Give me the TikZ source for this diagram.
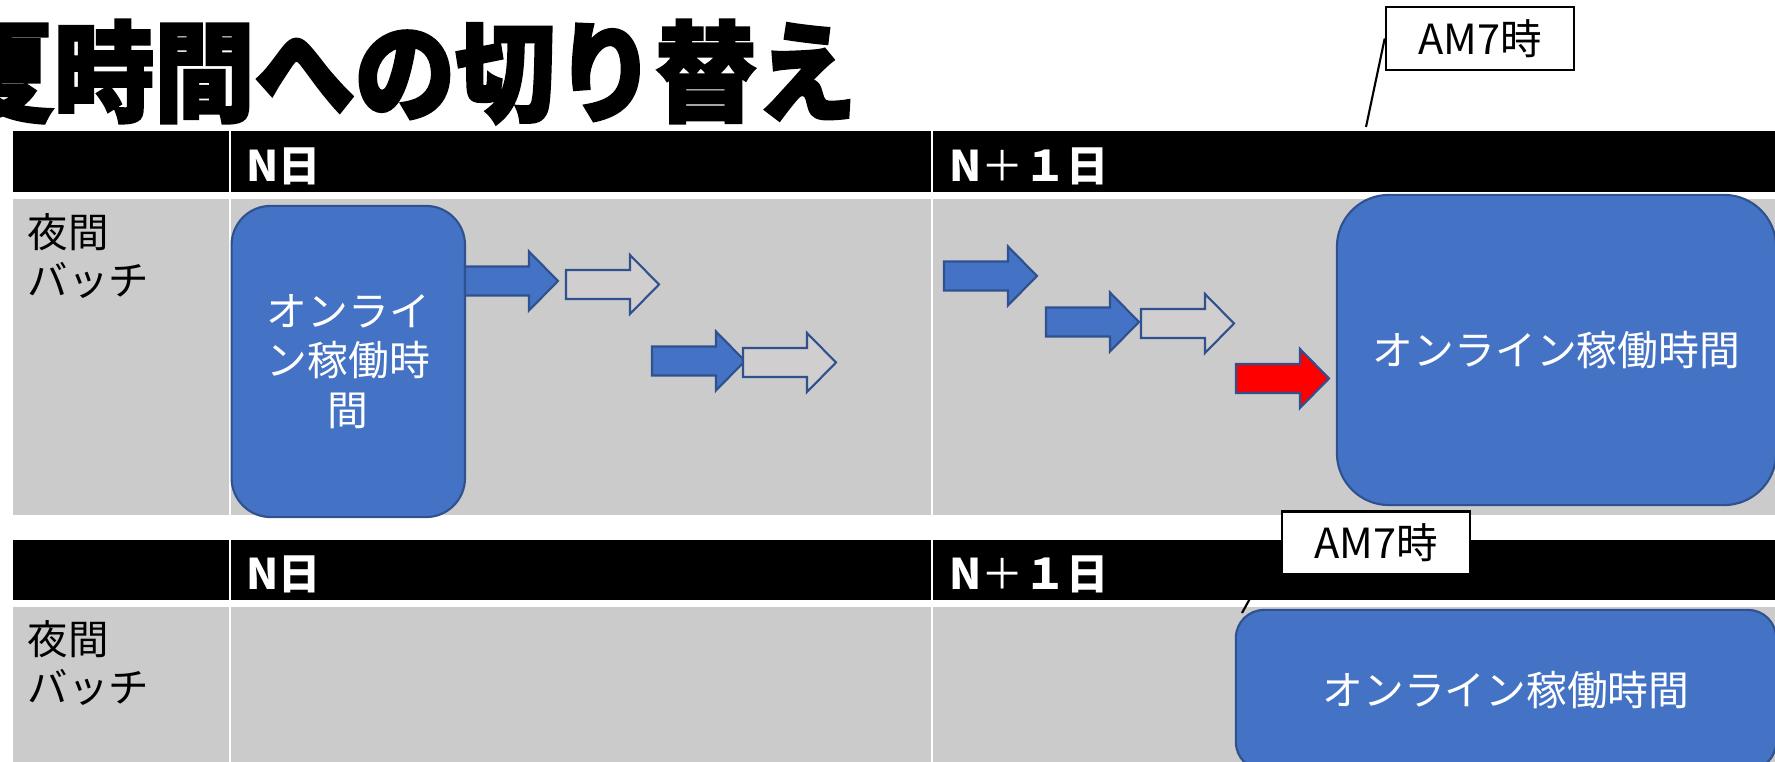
\documentclass[tikz,border=0pt]{standalone}
\usepackage{fontspec}
\setmainfont{Noto Sans CJK JP}
\newfontfamily\titlefont[FakeStretch=0.92,BoldFeatures={FakeBold=2.5}]{Noto Sans CJK JP}
\usetikzlibrary{positioning}
\definecolor{cellgray}{HTML}{CBCBCB}
\definecolor{boxblue}{HTML}{4472C4}
\definecolor{boxedge}{HTML}{2F528F}
\definecolor{hollowfill}{HTML}{D0CECE}
\tikzset{
  blockarrow/.pic={
    \path[pic actions] (0,-14.5) -- (64,-14.5) -- (64,-29.5) -- (93,0)
      -- (64,29.5) -- (64,14.5) -- (0,14.5) -- cycle;
  },
  solidarrow/.style={fill=boxblue,draw=boxedge,line width=0.6pt},
  hollowarrow/.style={fill=hollowfill,draw=boxedge,line width=0.6pt},
  onlinebox/.style={fill=boxblue,draw=boxedge,line width=0.6pt,text=white,
    align=center,font=\fontsize{11.6}{14}\selectfont},
  dayhead/.style={anchor=west,inner sep=0,text=white,
    font=\bfseries\fontsize{12}{14}\selectfont},
  rowlabel/.style={anchor=north west,inner sep=0,align=left,
    font=\fontsize{11.5}{13.7}\selectfont},
  callout/.style={draw=black,fill=white,line width=0.7pt,minimum width=1.88cm,
    minimum height=0.63cm,inner sep=0,font=\fontsize{11.8}{14}\selectfont}
}
\begin{document}
\begin{tikzpicture}[x=0.01cm,y=-0.01cm]
  \useasboundingbox (0,0) rectangle (1775,762);

  \node[anchor=base west,inner sep=0,
    font={\titlefont\bfseries\fontsize{31pt}{31pt}\selectfont}] (title) at (-47,113) {夏時間への切り替え};

  \foreach \xa/\xb in {12.7/228.7,230.7/931,933/1775}{
    \fill[black] (\xa,131) rectangle (\xb,192);
    \fill[cellgray] (\xa,199) rectangle (\xb,515);
    \fill[black] (\xa,540) rectangle (\xb,600);
    \fill[cellgray] (\xa,607) rectangle (\xb,775);
  }

  \node[dayhead] (dayN) at (246,166) {N日};
  \node[dayhead] (dayNext) at (949,166) {N{\mdseries ＋}１日};
  \node[dayhead] (dayNb) at (246,574) {N日};
  \node[dayhead] (dayNextb) at (949,574) {N{\mdseries ＋}１日};
  \node[rowlabel] (batch) at (27,213) {夜間\\バッチ};
  \node[rowlabel] (batchb) at (27,620) {夜間\\バッチ};

  \node[onlinebox,minimum width=2.333cm,minimum height=3.11cm,rounded corners=0.39cm]
    (onlineN) at (348.3,361.5) {オンライ\\ン稼働時\\間};
  \node[onlinebox,minimum width=4.39cm,minimum height=3.1cm,rounded corners=0.52cm]
    (onlineNext) at (1556.5,350) {オンライン稼働時間};
  \node[onlinebox,minimum width=5.4cm,minimum height=1.6cm,rounded corners=0.28cm]
    (onlineNextb) at (1506,690) {オンライン稼働時間};

  \foreach \x/\y in {465/281,652/361,944/276,1046/322}
    \pic[solidarrow] at (\x,\y) {blockarrow};
  \foreach \x/\y in {566/284.5,743/362.5,1141/323.5}
    \pic[hollowarrow] at (\x,\y) {blockarrow};
  \pic[fill=red,draw=boxedge,line width=0.6pt] at (1236,378.5) {blockarrow};

  \node[callout] (am7) at (1480,38.5) {AM7時};
  \coordinate (am7end) at (1366,127);
  \draw[line width=0.6pt] (am7.west) -- (am7end);
  \node[callout] (am7b) at (1376,543) {AM7時};
  \coordinate (am7bend) at (1242,613);
  \draw[line width=0.6pt] (am7b.west) -- (am7bend);
\end{tikzpicture}
\end{document}
